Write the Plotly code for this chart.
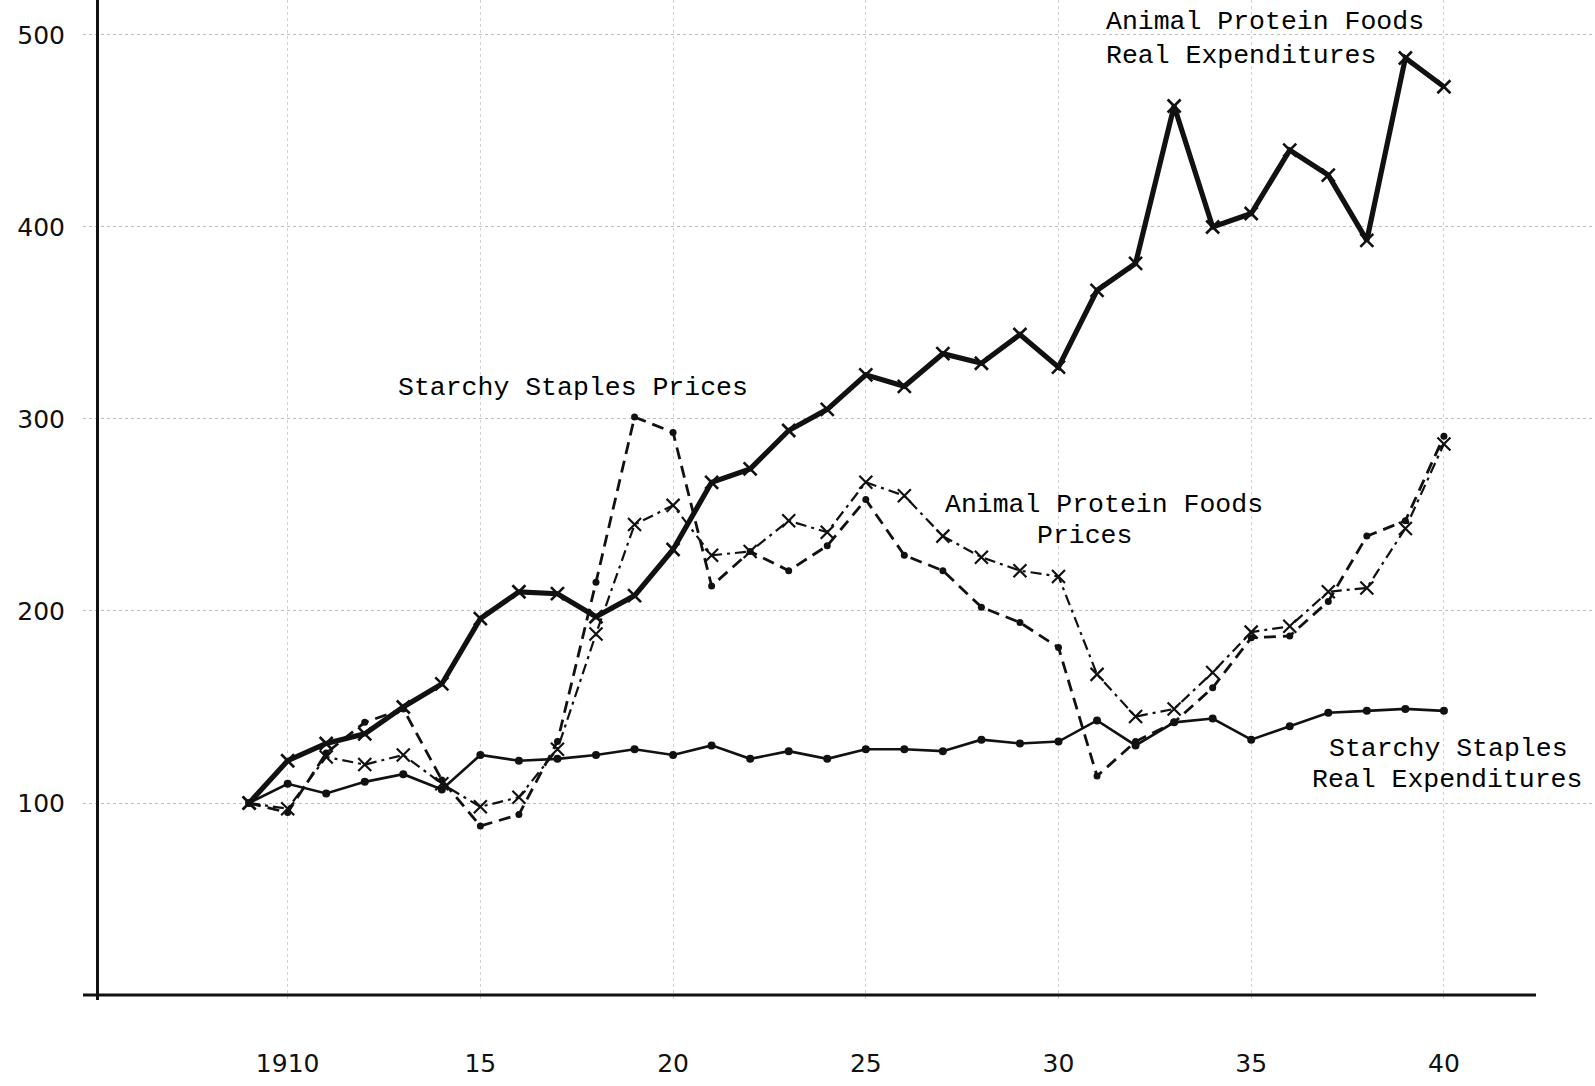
import plotly.graph_objects as go

# Index numbers, 1909 = 100
years = list(range(1909, 1941))

animal_protein_real = [100, 122, 131, 136, 150, 162, 196, 210, 209, 197, 208, 232,
                       267, 274, 294, 305, 323, 317, 334, 329, 344, 327, 367, 381,
                       463, 400, 407, 440, 427, 393, 488, 473]

starchy_real = [100, 110, 105, 111, 115, 107, 125, 122, 123, 125, 128, 125,
                130, 123, 127, 123, 128, 128, 127, 133, 131, 132, 143, 130,
                142, 144, 133, 140, 147, 148, 149, 148]

starchy_prices = [100, 95, 126, 142, 149, 112, 88, 94, 132, 215, 301, 293,
                  213, 231, 221, 234, 258, 229, 221, 202, 194, 181, 114, 132,
                  142, 160, 186, 187, 205, 239, 247, 291]

animal_protein_prices = [100, 97, 124, 120, 125, 110, 98, 103, 128, 188, 245, 255,
                         229, 231, 247, 241, 267, 260, 239, 228, 221, 218, 167, 145,
                         149, 168, 189, 192, 210, 212, 243, 287]

x_tick_vals = [1910, 1915, 1920, 1925, 1930, 1935, 1940]
x_tick_text = ["1910", "15", "20", "25", "30", "35", "40"]
y_tick_vals = [100, 200, 300, 400, 500]

INK = "#111111"
GRID = "#d2d2d2"
TYPE_FONT = dict(family="Liberation Mono, Courier New, monospace", size=26.5,
                 color="#000000")

fig = go.Figure()

fig.add_trace(go.Scatter(
    x=years, y=starchy_prices, mode="lines+markers",
    line=dict(color=INK, width=2.8, dash="12px,7px"),
    marker=dict(symbol="circle", size=7, color=INK),
    cliponaxis=False, showlegend=False))

fig.add_trace(go.Scatter(
    x=years, y=animal_protein_prices, mode="lines+markers",
    line=dict(color=INK, width=2.2, dash="11px,5px,3px,5px"),
    marker=dict(symbol="x-thin", size=13, line=dict(color=INK, width=2.2)),
    cliponaxis=False, showlegend=False))

fig.add_trace(go.Scatter(
    x=years, y=starchy_real, mode="lines+markers",
    line=dict(color=INK, width=2.6),
    marker=dict(symbol="circle", size=8, color=INK),
    cliponaxis=False, showlegend=False))

fig.add_trace(go.Scatter(
    x=years, y=animal_protein_real, mode="lines+markers",
    line=dict(color=INK, width=5.2),
    marker=dict(symbol="x-thin", size=13, line=dict(color=INK, width=2.6)),
    cliponaxis=False, showlegend=False))

labels = [
    ("Animal Protein Foods", 1931.18, 506.6),
    ("Real Expenditures", 1931.18, 489.0),
    ("Starchy Staples Prices", 1912.81, 315.9),
    ("Animal Protein Foods", 1927.0, 255.0),
    ("Prices", 1929.38, 239.0),
    ("Starchy Staples", 1936.96, 128.3),
    ("Real Expenditures", 1936.52, 112.0),
]
for text, lx, ly in labels:
    fig.add_annotation(x=lx, y=ly, xref="x", yref="y", text=text, showarrow=False,
                       xanchor="left", yanchor="middle", font=TYPE_FONT)

# Horizontal base line of the chart
fig.add_shape(type="line", xref="x", yref="y", x0=1904.69, x1=1942.39, y0=0, y1=0,
              line=dict(color=INK, width=3), layer="above")

fig.update_layout(
    width=1595, height=1086,
    margin=dict(l=83, r=0, t=0, b=86),
    paper_bgcolor="white", plot_bgcolor="white",
    xaxis=dict(
        range=[1904.69, 1943.92],
        tickvals=x_tick_vals, ticktext=x_tick_text,
        showgrid=True, gridcolor=GRID, gridwidth=1, griddash="dot",
        zeroline=False, showline=False, ticks="",
        ticklabelstandoff=46,
        tickfont=dict(family="DejaVu Sans, sans-serif", size=25, color=INK),
    ),
    yaxis=dict(
        range=[-2.6, 518.2],
        tickvals=y_tick_vals,
        anchor="free", position=0.00926,
        showgrid=True, gridcolor="#bdbdbd", gridwidth=1, griddash="dot",
        zeroline=False, showline=True, linecolor=INK, linewidth=3, ticks="",
        ticklabelstandoff=26,
        tickfont=dict(family="DejaVu Sans, sans-serif", size=25, color=INK),
    ),
)

fig.write_html("out.html")
